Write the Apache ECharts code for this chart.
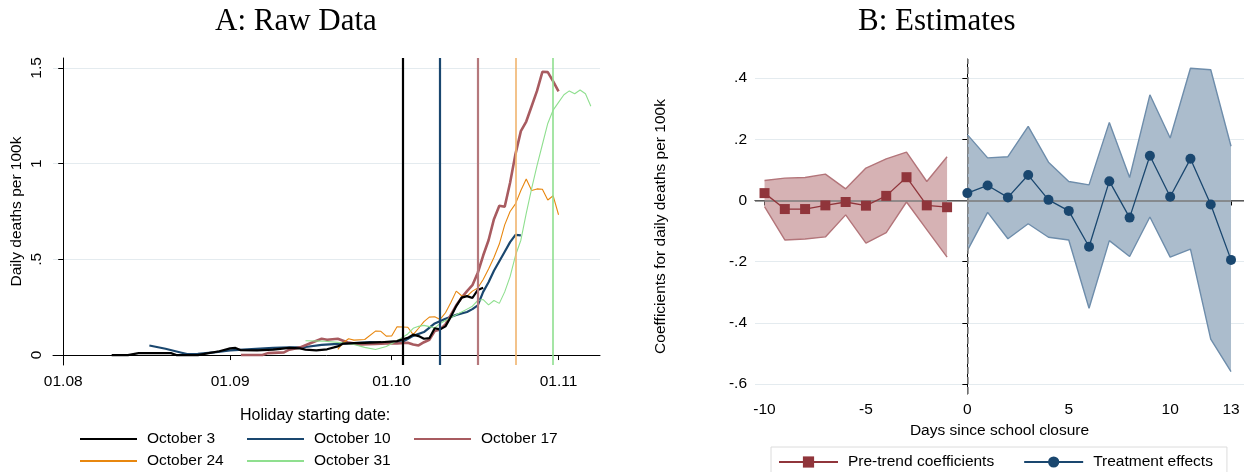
<!DOCTYPE html>
<html lang="en">
<head>
<meta charset="UTF-8">
<title>Raw data and estimates</title>
<script src="https://cdn.jsdelivr.net/npm/echarts@6/dist/echarts.min.js"></script>
</head>
<body style="margin:0;background:#fff">
<div id="chart" style="width:1244px;height:472px"></div>
<script>
// ---------- A: Raw Data (dates are MM-DD in 2020) ----------
var monthTicks = ['08-01', '09-01', '10-01', '11-01']
var monthTickLabels = ['01.08', '01.09', '01.10', '01.11']
var rawTicks = [0, 0.5, 1, 1.5]
var holidayNames = ['October 3', 'October 10', 'October 17', 'October 24', 'October 31']
var holidayDates = ['10-03', '10-10', '10-17', '10-24', '10-31']

var oct3Dates = ['08-10','08-13','08-15','08-21','08-22','08-26','08-28','08-30','09-01','09-02','09-03','09-06','09-09','09-12','09-14','09-15','09-17','09-19','09-21','09-22','09-24','09-26','09-29','10-02','10-04','10-05','10-06','10-07','10-08','10-09','10-10','10-11','10-12','10-13','10-14','10-15','10-16','10-17','10-18']
var oct3Vals = [0,0,0.01,0.01,0,0,0.01,0.02,0.035,0.037,0.025,0.024,0.028,0.037,0.035,0.028,0.024,0.03,0.045,0.06,0.062,0.064,0.067,0.073,0.09,0.107,0.099,0.085,0.088,0.14,0.134,0.15,0.2,0.256,0.3,0.308,0.298,0.34,0.352]

var oct10Dates = ['08-17','08-20','08-23','08-24','08-26','08-29','09-01','09-05','09-09','09-12','09-15','09-18','09-21','09-24','09-27','09-30','10-03','10-05','10-07','10-09','10-11','10-13','10-15','10-16','10-17','10-18','10-19','10-20','10-21','10-22','10-23','10-24','10-25']
var oct10Vals = [0.05,0.033,0.012,0.005,0.006,0.014,0.024,0.031,0.037,0.04,0.042,0.053,0.058,0.062,0.068,0.064,0.068,0.1,0.12,0.165,0.19,0.21,0.225,0.24,0.26,0.33,0.38,0.44,0.49,0.54,0.59,0.628,0.625]

var oct17Dates = ['09-03','09-07','09-08','09-11','09-12','09-14','09-16','09-18','09-19','09-21','09-22','09-23','09-25','09-28','09-30','10-02','10-04','10-05','10-06','10-07','10-08','10-09','10-10','10-11','10-12','10-13','10-14','10-15','10-16','10-17','10-18','10-19','10-20','10-21','10-22','10-23','10-24','10-25','10-26','10-27','10-28','10-29','10-30','10-31','11-01']
var oct17Vals = [0,0,0.01,0.014,0.028,0.04,0.063,0.085,0.08,0.085,0.075,0.065,0.056,0.058,0.06,0.06,0.064,0.055,0.05,0.067,0.08,0.125,0.134,0.16,0.21,0.26,0.3,0.334,0.365,0.43,0.52,0.6,0.71,0.78,0.775,0.9,1.05,1.17,1.22,1.3,1.38,1.48,1.478,1.43,1.378]

var oct24Dates = ['09-21','09-22','09-23','09-24','09-26','09-28','09-29','09-30','10-01','10-02','10-04','10-05','10-06','10-07','10-08','10-09','10-10','10-11','10-12','10-13','10-14','10-15','10-16','10-17','10-18','10-19','10-20','10-21','10-22','10-23','10-24','10-25','10-26','10-27','10-28','10-29','10-30','10-31','11-01']
var oct24Vals = [0.03,0.064,0.085,0.078,0.081,0.125,0.124,0.099,0.1,0.148,0.145,0.107,0.14,0.175,0.198,0.2,0.186,0.221,0.275,0.334,0.31,0.308,0.334,0.35,0.395,0.45,0.51,0.58,0.68,0.75,0.79,0.86,0.92,0.86,0.868,0.866,0.81,0.832,0.733]

var oct31Dates = ['09-15','09-18','09-21','09-24','09-26','09-28','09-30','10-02','10-04','10-05','10-06','10-07','10-09','10-10','10-11','10-12','10-13','10-14','10-15','10-16','10-17','10-18','10-19','10-20','10-21','10-22','10-23','10-24','10-25','10-26','10-27','10-28','10-29','10-30','10-31','11-01','11-02','11-03','11-04','11-05','11-06','11-07']
var oct31Vals = [0.075,0.073,0.066,0.055,0.04,0.029,0.045,0.075,0.11,0.14,0.15,0.155,0.142,0.165,0.18,0.195,0.21,0.225,0.24,0.255,0.285,0.29,0.262,0.285,0.27,0.33,0.41,0.52,0.6,0.74,0.87,0.99,1.1,1.21,1.28,1.32,1.36,1.38,1.365,1.385,1.365,1.3]

// ---------- B: Estimates ----------
var preDays = [-10, -9, -8, -7, -6, -5, -4, -3, -2, -1]
var preCoef = [0.024, -0.028, -0.028, -0.016, -0.005, -0.017, 0.015, 0.076, -0.016, -0.022]
var preHigh = [0.065, 0.073, 0.075, 0.086, 0.038, 0.106, 0.136, 0.158, 0.062, 0.143]
var preLow = [-0.02, -0.129, -0.126, -0.119, -0.047, -0.139, -0.105, -0.005, -0.095, -0.185]

var postDays = [0, 1, 2, 3, 4, 5, 6, 7, 8, 9, 10, 11, 12, 13]
var postCoef = [0.024, 0.049, 0.01, 0.083, 0.002, -0.034, -0.151, 0.063, -0.056, 0.146, 0.012, 0.136, -0.013, -0.194]
var postHigh = [0.215, 0.139, 0.143, 0.242, 0.125, 0.062, 0.051, 0.255, 0.075, 0.345, 0.204, 0.432, 0.427, 0.177]
var postLow = [-0.164, -0.039, -0.125, -0.076, -0.12, -0.129, -0.352, -0.131, -0.183, -0.054, -0.185, -0.159, -0.453, -0.559]

var dayTicksB = [-10, -5, 0, 5, 10, 13]
var estTicks = [-0.6, -0.4, -0.2, 0, 0.2, 0.4]

// helpers
function dayOf(s) {
  var p = s.split('-')
  return (Date.UTC(2020, +p[0] - 1, +p[1]) - Date.UTC(2020, 7, 1)) / 864e5
}
function pairs(xs, ys) {
  return xs.map(function (x, i) { return [typeof x === 'string' ? dayOf(x) : x, ys[i]] })
}
function stataNum(v) {
  if (v === 0) return '0'
  return (v < 0 ? '-' : '') + String(Math.abs(+v.toFixed(2))).replace(/^0\./, '.')
}

var FONT = 'Liberation Sans, Arial, sans-serif'
var GRID_COLOR = '#e4ebef'
var rawColors = ['#000000', '#1a476f', '#a85b60', '#e8870f', '#8fdf8f']
var rawWidths = [2.2, 2.2, 2.6, 1.1, 1.1]
var vlineColors = ['#000000', '#1a476f', '#b5787c', '#f0b46e', '#8fdf8f']
var rawDates = [oct3Dates, oct10Dates, oct17Dates, oct24Dates, oct31Dates]
var rawVals = [oct3Vals, oct10Vals, oct17Vals, oct24Vals, oct31Vals]
var monthTickDays = monthTicks.map(dayOf)

var chart = echarts.init(document.getElementById('chart'))

var series = []
holidayNames.forEach(function (name, i) {
  series.push({
    name: name,
    type: 'line',
    xAxisIndex: 0, yAxisIndex: 0,
    symbol: 'none',
    z: 3 + (i === 0 ? 1 : 0),
    lineStyle: { color: rawColors[i], width: rawWidths[i] },
    itemStyle: { color: rawColors[i] },
    data: pairs(rawDates[i], rawVals[i]),
    markLine: {
      silent: true, symbol: 'none', label: { show: false },
      lineStyle: { color: vlineColors[i], width: i < 3 ? 2.2 : 1.6, type: 'solid' },
      data: [{ xAxis: dayOf(holidayDates[i]) }]
    }
  })
})

// confidence band: one filled polygon (custom series) plus its two edge lines
function band(days, low, high, fill, edge) {
  var poly = {
    type: 'custom', xAxisIndex: 1, yAxisIndex: 1, z: 1, silent: true,
    data: days.map(function (d, i) { return [d, low[i], high[i]] }),
    encode: { x: 0, y: [1, 2] },
    renderItem: function (params, api) {
      if (params.dataIndex !== 0) return null
      var pts = []
      days.forEach(function (d, i) { pts.push(api.coord([d, high[i]])) })
      for (var i = days.length - 1; i >= 0; i--) pts.push(api.coord([days[i], low[i]]))
      return { type: 'polygon', shape: { points: pts }, style: { fill: fill } }
    }
  }
  var edgeLine = function (vals) {
    return {
      type: 'line', xAxisIndex: 1, yAxisIndex: 1, z: 2, silent: true,
      symbol: 'none', lineStyle: { color: edge, width: 1.4 },
      data: pairs(days, vals)
    }
  }
  return [poly, edgeLine(low), edgeLine(high)]
}
series = series.concat(band(preDays, preLow, preHigh, '#d6b2b4', '#b3757a'))
series = series.concat(band(postDays, postLow, postHigh, '#abbccc', '#6e8dab'))

series.push({
  name: 'Treatment effects',
  type: 'line', xAxisIndex: 1, yAxisIndex: 1, z: 5,
  symbol: 'circle', symbolSize: 10,
  lineStyle: { color: '#1a476f', width: 1.3 },
  itemStyle: { color: '#1a476f' },
  data: pairs(postDays, postCoef),
  markLine: {
    silent: true, symbol: 'none', label: { show: false }, z: 4,
    data: [
      { yAxis: 0, lineStyle: { color: '#7a7a7a', width: 1.6, type: 'solid' } },
      { xAxis: 0, lineStyle: { color: '#8a8a8a', width: 1.6, type: [7, 3] } }
    ]
  }
})
series.push({
  name: 'Pre-trend coefficients',
  type: 'line', xAxisIndex: 1, yAxisIndex: 1, z: 5,
  symbol: 'rect', symbolSize: 10,
  lineStyle: { color: '#90353b', width: 1.3 },
  itemStyle: { color: '#90353b' },
  data: pairs(preDays, preCoef)
})

var axisLineStyle = { lineStyle: { color: '#000', width: 1 } }
var tickLine = { color: '#000', width: 1 }
var labelBase = { color: '#000', fontFamily: FONT, fontSize: 15.5 }

var legendText = { color: '#000', fontFamily: FONT, fontSize: 15.5, padding: [0, 0, 0, 5] }
function rawLegend(left, names) {
  return {
    orient: 'vertical', left: left, top: 431, padding: 0,
    itemWidth: 57, itemHeight: 14, itemGap: 6,
    itemStyle: { opacity: 0, borderWidth: 0 },
    selectedMode: false, textStyle: legendText, data: names
  }
}

var option = {
  backgroundColor: '#fff',
  animation: false,
  title: [
    { text: 'A: Raw Data', left: 215, top: 6, padding: 0,
      textStyle: { fontFamily: 'Liberation Serif, Times New Roman, serif', fontWeight: 'normal', fontSize: 31, color: '#000' } },
    { text: 'B: Estimates', left: 858, top: 6, padding: 0,
      textStyle: { fontFamily: 'Liberation Serif, Times New Roman, serif', fontWeight: 'normal', fontSize: 31, color: '#000' } },
    { text: 'Holiday starting date:', left: 240, top: 408, padding: 0,
      textStyle: { fontFamily: FONT, fontWeight: 'normal', fontSize: 16, color: '#000' } }
  ],
  legend: [
    rawLegend(79, ['October 3', 'October 24']),
    rawLegend(246, ['October 10', 'October 31']),
    rawLegend(413, ['October 17']),
    {
      left: 771, top: 447, padding: [7, 14, 10, 7],
      borderColor: '#dcdcdc', borderWidth: 1,
      itemWidth: 59, itemHeight: 14, itemGap: 29,
      selectedMode: false, textStyle: legendText,
      data: ['Pre-trend coefficients', 'Treatment effects']
    }
  ],
  grid: [
    { left: 53, top: 58, width: 547, height: 307 },
    { left: 755, top: 59, width: 489, height: 335 }
  ],
  xAxis: [
    {
      type: 'value', gridIndex: 0, min: -1.9, max: 99.7,
      axisLine: axisLineStyle,
      axisTick: { length: 5, lineStyle: tickLine, customValues: monthTickDays },
      axisLabel: Object.assign({ margin: 9, customValues: monthTickDays,
        formatter: function (v) { return monthTickLabels[monthTickDays.indexOf(v)] } }, labelBase),
      splitLine: { show: false }
    },
    {
      type: 'value', gridIndex: 1, min: -10.47, max: 13.64,
      name: 'Days since school closure', nameLocation: 'middle', nameGap: 26,
      nameTextStyle: labelBase,
      axisLine: axisLineStyle,
      axisTick: { length: 5, lineStyle: tickLine, customValues: dayTicksB },
      axisLabel: Object.assign({ margin: 8, customValues: dayTicksB }, labelBase),
      splitLine: { show: false }
    }
  ],
  yAxis: [
    {
      type: 'value', gridIndex: 0, min: -0.052, max: 1.552,
      name: 'Daily deaths per 100k', nameLocation: 'middle', nameGap: 28,
      nameTextStyle: labelBase,
      axisLine: { show: true, lineStyle: { color: '#000', width: 1 } },
      axisTick: { show: true, length: 5, lineStyle: tickLine, customValues: rawTicks },
      axisLabel: Object.assign({ margin: 8, rotate: 90, customValues: rawTicks, formatter: stataNum }, labelBase),
      splitLine: { show: true, customValues: rawTicks, lineStyle: { color: GRID_COLOR, width: 1.2 } }
    },
    {
      type: 'value', gridIndex: 1, min: -0.632, max: 0.462,
      name: 'Coefficients for daily deaths per 100k', nameLocation: 'middle', nameGap: 86,
      nameTextStyle: labelBase,
      axisLine: { show: true, lineStyle: { color: '#000', width: 1 } },
      axisTick: { show: true, length: 5, lineStyle: tickLine, customValues: estTicks },
      axisLabel: Object.assign({ margin: 8, customValues: estTicks, formatter: stataNum }, labelBase),
      splitLine: { show: true, customValues: estTicks, lineStyle: { color: GRID_COLOR, width: 1.2 } }
    }
  ],
  series: series
}
chart.setOption(option)
</script>
</body>
</html>
